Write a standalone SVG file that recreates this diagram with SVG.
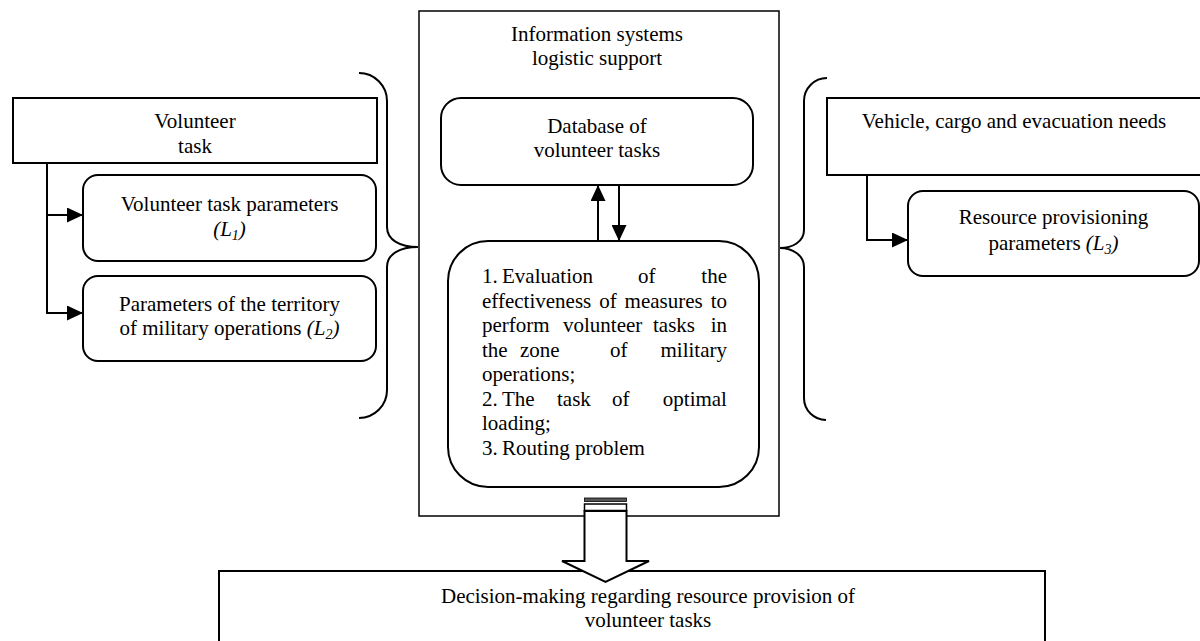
<svg xmlns="http://www.w3.org/2000/svg" width="1200" height="641" viewBox="0 0 1200 641">
<style>
  text { font-family: "Liberation Serif", "Times New Roman", serif; font-size: 21px; fill: #000; }
  .c { text-anchor: middle; }
  .e { text-anchor: end; }
  .box { fill: #fff; stroke: #000; stroke-width: 2; }
  .thin { fill: #fff; stroke: #000; stroke-width: 1.5; }
  .ln { fill: none; stroke: #000; stroke-width: 2; }
  .it { font-style: italic; }
  .sub { font-style: italic; font-size: 14px; }
</style>
<defs>
  <marker id="ah" markerUnits="userSpaceOnUse" markerWidth="16" markerHeight="15" refX="16" refY="7.5" orient="auto">
    <path d="M0,0 L16,7.5 L0,15 Z" fill="#000"/>
  </marker>
</defs>
<rect width="1200" height="641" fill="#fff"/>

<g id="central">
  <rect class="thin" x="419" y="11" width="360" height="505"/>
  <text class="c" x="597" y="41">Information systems</text>
  <text class="c" x="597" y="64.5">logistic support</text>
</g>

<g id="braces">
  <path class="ln" d="M359,73 A28,28 0 0 1 387,101 V227 C387,240 400,247 418,247 C400,247 387,254 387,267 V390 A28,28 0 0 1 359,418"/>
  <path class="ln" d="M827,78 A23,23 0 0 0 804,101 V230 C804,242 792,248 780,248 C792,248 804,255 804,267 V398 A22,22 0 0 0 826,420"/>
</g>

<g id="volunteer-task">
  <rect class="box" x="13" y="98" width="364" height="65"/>
  <text class="c" x="195" y="128">Volunteer</text>
  <text class="c" x="195" y="152.5">task</text>
</g>

<g id="l1">
  <rect class="box" x="83" y="175" width="293" height="86" rx="15"/>
  <text class="c" x="229.5" y="210.5">Volunteer task parameters</text>
  <text class="c" x="229.5" y="236"><tspan class="it">(L</tspan><tspan class="sub" dy="4">1</tspan><tspan class="it" dy="-4">)</tspan></text>
</g>

<g id="l2">
  <rect class="box" x="83" y="276" width="293" height="85" rx="15"/>
  <text class="c" x="229.5" y="310.5">Parameters of the territory</text>
  <text class="c" x="229.5" y="335">of military operations <tspan class="it">(L</tspan><tspan class="sub" dy="4">2</tspan><tspan class="it" dy="-4">)</tspan></text>
</g>

<g id="database">
  <rect class="box" x="441" y="98" width="312" height="87" rx="20"/>
  <text class="c" x="597" y="133">Database of</text>
  <text class="c" x="597" y="156.5">volunteer tasks</text>
</g>

<g id="evaluation">
  <rect class="box" x="448" y="241" width="311" height="246" rx="40"/>
  <text y="283"><tspan x="482">1.</tspan><tspan x="502">Evaluation</tspan><tspan x="638">of</tspan><tspan x="701.3">the</tspan></text>
  <text x="482" y="307.6" word-spacing="2.7">effectiveness of measures to</text>
  <text y="332.1"><tspan x="482">perform</tspan><tspan x="563">volunteer</tspan><tspan x="653">tasks</tspan><tspan x="710.7">in</tspan></text>
  <text y="356.7"><tspan x="482">the</tspan><tspan x="520">zone</tspan><tspan x="610">of</tspan><tspan x="660.5">military</tspan></text>
  <text x="482" y="381.3">operations;</text>
  <text y="405.9"><tspan x="482">2.</tspan><tspan x="502">The</tspan><tspan x="557">task</tspan><tspan x="612">of</tspan><tspan x="662.8">optimal</tspan></text>
  <text x="482" y="430.4">loading;</text>
  <text y="455"><tspan x="482">3.</tspan><tspan x="502">Routing problem</tspan></text>
</g>

<g id="vehicle-needs">
  <rect class="box" x="827" y="98" width="380" height="77"/>
  <text class="c" x="1014" y="128.3">Vehicle, cargo and evacuation needs</text>
</g>

<g id="l3">
  <rect class="box" x="908" y="191" width="291" height="85" rx="15"/>
  <text class="c" x="1053.5" y="224.3">Resource provisioning</text>
  <text class="c" x="1053.5" y="250">parameters <tspan class="it">(L</tspan><tspan class="sub" dy="4">3</tspan><tspan class="it" dy="-4">)</tspan></text>
</g>

<g id="decision">
  <rect class="box" x="219" y="571" width="826" height="100"/>
  <text class="c" x="648" y="603">Decision-making regarding resource provision of</text>
  <text class="c" x="648" y="626.5">volunteer tasks</text>
</g>

<g id="connectors">
  <path class="ln" d="M47,163 V215 H83" marker-end="url(#ah)"/>
  <path class="ln" d="M47,215 V313 H83" marker-end="url(#ah)"/>
  <path class="ln" d="M598,241 V185" marker-end="url(#ah)"/>
  <path class="ln" d="M619,185 V241" marker-end="url(#ah)"/>
  <path class="ln" d="M867,175 V240 H908" marker-end="url(#ah)"/>
  <g id="big-arrow">
    <rect x="584.5" y="498" width="42" height="3.5" fill="#555" stroke="#000" stroke-width="0.8"/>
    <rect x="584.5" y="504" width="42" height="6.5" fill="#fff" stroke="#000" stroke-width="1.5"/>
    <path d="M584.5,511 V561 H562 L605.5,582 L649,561 H626.5 V511 Z" fill="#fff" stroke="#000" stroke-width="2" stroke-linejoin="miter"/>
  </g>
</g>
</svg>
